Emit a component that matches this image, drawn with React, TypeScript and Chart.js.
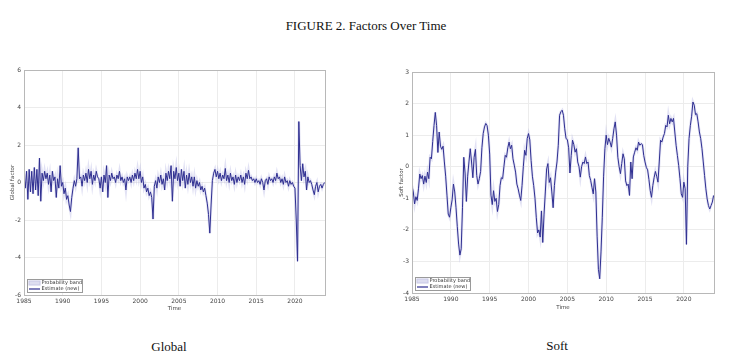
import React, { useEffect, useRef } from "react";
import { Chart, registerables } from "chart.js";

Chart.register(...registerables);

// ---------- data ----------
const START_YEAR = 1985;
const STEPS_PER_YEAR = 6; // bimonthly readings
const X_MIN = 1985;
const X_MAX = 2023.88;
const yearTicks = [1985, 1990, 1995, 2000, 2005, 2010, 2015, 2020];
const globalTicks = [-6, -4, -2, 0, 2, 4, 6];
const softTicks = [-4, -3, -2, -1, 0, 1, 2, 3];

// Global factor, 6 readings per year, 1985..2023
const globalValues = [
  0.3, -0.3, 0.6, -0.9, 0.7, -0.5,
  0.6, -0.6, 0.8, -0.4, 0.7, -0.7,
  1.3, -1.0, 0.5, 0.1, 0.6, 0.2,
  0.5, -0.1, 0.4, -0.5, 0.6, 0.1,
  0.3, -0.8, 0.2, -0.3, 0.9, -0.2,
  0.0, -0.6, -0.3, -0.9, -0.7, -1.2,
  -1.55, -0.8, -0.3, 0.1, -0.2, 0.2,
  1.85, 0.2, 0.3, -0.2, 0.4, 0.1,
  0.5, 0.0, 0.7, 0.2, 0.6, -0.1,
  0.4, 0.1, 0.6, 0.3, 0.2, -0.3,
  0.3, -0.5, 0.4, 0.0, 0.9, -0.8,
  0.4, 0.1, 0.5, 0.2, 0.3, 0.0,
  0.4, 0.2, 0.6, 0.1, 0.3, 0.0,
  0.2, -0.4, 0.3, 0.1, 0.3, 0.0,
  0.4, 0.1, 0.5, 0.2, 0.7, 0.2,
  0.6, 0.0, 0.3, -0.3, -0.1, -0.5,
  -0.3, -0.7, -0.5, -0.8, -1.95, -0.2,
  0.1, -0.3, 0.3, 0.0, 0.4, -0.1,
  0.2, -0.4, 0.5, 0.1, 0.6, 0.2,
  0.9, -1.0, 0.6, 0.2, 0.8, 0.1,
  0.5, -0.2, 0.7, 0.1, 0.6, -0.3,
  0.4, -0.1, 0.5, 0.0, 0.3, -0.2,
  0.3, -0.3, 0.1, -0.2, 0.0, -0.4,
  -0.2, -0.5, -0.3, -0.7, -1.1, -1.7,
  -2.7, -1.2, 0.1, 0.5, 0.7, 0.3,
  0.6, 0.2, 0.5, 0.1, 0.4, 0.2,
  0.75, 0.1, 0.4, 0.0, 0.5, 0.1,
  0.3, -0.1, 0.4, 0.0, 0.3, 0.1,
  0.4, 0.0, 0.3, -0.1, 0.5, 0.2,
  0.65, 0.2, 0.3, 0.1, 0.2, 0.0,
  0.2, 0.0, 0.1, -0.1, 0.2, 0.0,
  -0.4, 0.1, 0.2, -0.1, 0.3, 0.1,
  0.2, 0.0, 0.3, 0.1, 0.5, 0.2,
  0.3, 0.0, 0.2, -0.1, 0.3, 0.0,
  0.1, -0.2, 0.1, -0.1, 0.0, -0.2,
  -0.3, -2.0, -4.2, 3.25, 0.9, 0.1,
  1.0, 0.3, 0.6, -0.4, 0.3, 0.0,
  0.1, -0.1, -0.4, -0.65, -0.2, 0.0,
  -0.5, -0.2, -0.1, -0.3, -0.1, 0.0,
];

// Soft factor, 6 readings per year, 1985..2023
const softValues = [
  -0.6, -0.8, -1.18, -0.95, -1.07, -0.7,
  -0.23, -0.38, -0.28, -0.55, -0.3, -0.5,
  -0.17, -0.38, 0.3, 0.25, 0.8, 1.3,
  1.72, 1.3, 0.45, 1.1, 0.65, 0.55,
  0.65, 0.15, -0.3, -0.9, -1.5, -1.6,
  -1.3, -1.05, -0.55, -0.8, -1.3, -1.9,
  -2.45, -2.8, -2.6, -1.3, 0.3, -0.2,
  -1.1, -0.3, 0.15, 0.57, 0.15, -0.35,
  0.3, 0.55, -0.28, -0.55, -0.38, -0.15,
  0.6, 1.05, 1.26, 1.37, 1.3, 1.0,
  0.4, -0.9, -1.2, -0.76, -1.1, -1.0,
  -1.42, -1.2, -0.6, -0.35, -0.38, 0.0,
  0.36, 0.3, 0.6, 0.78, 0.57, 0.68,
  0.25, 0.05, -0.17, -0.55, -0.7, -0.9,
  -1.07, -0.6, 0.0, 0.52, 0.36, 0.89,
  1.05, 0.85, 0.2, -0.3, -0.6, -1.0,
  -1.6, -2.1, -2.0, -2.23, -1.4, -2.4,
  -1.5, -0.8, -0.07, 0.1, -0.5, -0.35,
  -0.8, -1.3, -0.6, -0.17, 0.15, 0.68,
  1.63, 1.74, 1.79, 1.63, 1.2, 0.89,
  0.86, 0.6, -0.2, 0.36, 0.84, 0.7,
  0.46, 0.57, 0.15, 0.0, -0.33, 0.0,
  0.15, 0.1, 0.31, 0.1, 0.15, -0.28,
  -0.43, -0.65, -0.86, -0.38, -0.8, -2.2,
  -3.25, -3.55, -2.7, -1.6, -0.3, 0.57,
  1.0, 0.7, 0.9, 0.78, 0.62, 0.89,
  1.2, 1.42, 1.0, 0.3, 0.0, -0.22,
  0.1, 0.41, 0.25, -0.45, -0.6, -0.55,
  -0.91, 0.15, -0.38, 0.31, 0.46, 0.6,
  0.52, 0.78, 0.68, 0.73, 0.7, 0.36,
  0.15, -0.02, -0.1, -0.4, -0.75, -0.97,
  -0.6, -0.35, -0.15, -0.3, -0.49, 0.15,
  0.84, 0.78, 0.94, 1.05, 1.31, 1.26,
  1.63, 1.36, 1.53, 1.42, 1.53, 1.1,
  0.68, 0.36, 0.04, -0.38, -0.86, -0.97,
  -0.49, -0.7, -2.46, 0.0, 0.89, 1.3,
  1.6, 2.05, 1.95, 1.65, 1.68, 1.42,
  1.1, 0.89, 0.57, 0.15, -0.28, -0.7,
  -1.02, -1.23, -1.34, -1.23, -1.12, -0.91,
];

// ---------- styles ----------
const LINE_COLOR = "rgb(46, 46, 144)";
const BAND_COLOR = "rgba(190, 190, 230, 0.45)";
const BAND_SWATCH = "rgb(222, 222, 240)";
const GRID_COLOR = "#ececec";
const BOX_COLOR = "#b8b8b8";
const TEXT_COLOR = "#444";
const SANS = "'DejaVu Sans', sans-serif";

const boxLegendPlugin = {
  id: "boxLegend",
  afterDatasetsDraw(chart: any) {
    const { ctx, chartArea: a } = chart;
    ctx.save();
    ctx.strokeStyle = BOX_COLOR;
    ctx.lineWidth = 1;
    const l = Math.round(a.left) + 0.5;
    const t = Math.round(a.top) + 0.5;
    ctx.strokeRect(l, t, Math.round(a.right - a.left), Math.round(a.bottom - a.top));
    // legend box
    const lx = Math.round(a.left + 3) + 0.5;
    const ly = Math.round(a.bottom - 16) + 0.5;
    const lw = 55;
    const lh = 13;
    ctx.fillStyle = "#fff";
    ctx.fillRect(lx, ly, lw, lh);
    ctx.strokeStyle = "#9a9a9a";
    ctx.strokeRect(lx, ly, lw, lh);
    ctx.fillStyle = BAND_SWATCH;
    ctx.fillRect(lx + 1.5, ly + 1.5, 11, 4);
    ctx.strokeStyle = "rgb(200,200,230)";
    ctx.strokeRect(lx + 1.5, ly + 1.5, 11, 4);
    ctx.strokeStyle = LINE_COLOR;
    ctx.lineWidth = 1.2;
    ctx.beginPath();
    ctx.moveTo(lx + 1.5, ly + 9.5);
    ctx.lineTo(lx + 12.5, ly + 9.5);
    ctx.stroke();
    ctx.fillStyle = "#333";
    ctx.font = `5px ${SANS}`;
    ctx.textBaseline = "middle";
    ctx.textAlign = "left";
    const labels = chart.data.datasets.map((d: any) => d.label);
    ctx.fillText(labels[0], lx + 14, ly + 3.7);
    ctx.fillText(labels[1], lx + 14, ly + 9.7);
    ctx.restore();
  },
};

type PanelProps = {
  left: number;
  top: number;
  width: number;
  height: number;
  values: number[];
  yTicks: number[];
  yTitle: string;
  axisW: number;
  axisH: number;
  padTop: number;
  padRight: number;
  yTitlePad: number;
  xTitlePad: number;
};

function FactorPanel(p: PanelProps) {
  const ref = useRef<HTMLCanvasElement>(null);
  useEffect(() => {
    if (!ref.current) return;
    const pts = p.values.map((v, i) => ({ x: START_YEAR + i / STEPS_PER_YEAR, y: v }));
    const tickFont = { family: SANS, size: 6 };
    const titleFont = { family: SANS, size: 5.5 };
    const chart = new Chart(ref.current, {
      type: "line",
      data: {
        datasets: [
          {
            label: "Probability band",
            data: pts,
            borderColor: BAND_COLOR,
            borderWidth: 2.6,
            pointRadius: 0,
            tension: 0,
            order: 2,
          },
          {
            label: "Estimate (new)",
            data: pts,
            borderColor: LINE_COLOR,
            borderWidth: 1,
            pointRadius: 0,
            tension: 0,
            order: 1,
          },
        ],
      },
      options: {
        responsive: false,
        animation: false,
        devicePixelRatio: 1,
        layout: { padding: { top: p.padTop, right: p.padRight, left: 0, bottom: 0 } },
        plugins: { legend: { display: false }, tooltip: { enabled: false } },
        scales: {
          x: {
            type: "linear",
            min: X_MIN,
            max: X_MAX,
            afterBuildTicks: (s: any) => {
              s.ticks = yearTicks.map((v) => ({ value: v }));
            },
            afterFit: (s: any) => {
              s.height = p.axisH;
            },
            grid: { color: GRID_COLOR, drawTicks: false },
            border: { display: false },
            ticks: {
              padding: 3,
              font: tickFont,
              color: TEXT_COLOR,
              autoSkip: false,
              maxRotation: 0,
              callback: (v: any) => String(v),
            },
            title: {
              display: true,
              text: "Time",
              font: titleFont,
              color: TEXT_COLOR,
              padding: { top: 0, bottom: p.xTitlePad },
            },
          },
          y: {
            type: "linear",
            min: p.yTicks[0],
            max: p.yTicks[p.yTicks.length - 1],
            afterBuildTicks: (s: any) => {
              s.ticks = p.yTicks.map((v) => ({ value: v }));
            },
            afterFit: (s: any) => {
              s.width = p.axisW;
            },
            grid: { color: GRID_COLOR, drawTicks: false },
            border: { display: false },
            ticks: {
              padding: 3,
              font: tickFont,
              color: TEXT_COLOR,
              callback: (v: any) => String(v),
            },
            title: {
              display: true,
              text: p.yTitle,
              font: titleFont,
              color: TEXT_COLOR,
              padding: { top: p.yTitlePad, bottom: 0 },
            },
          },
        },
      },
      plugins: [boxLegendPlugin],
    } as any);
    return () => chart.destroy();
  }, []);
  return (
    <canvas
      ref={ref}
      width={p.width}
      height={p.height}
      style={{ position: "absolute", left: p.left, top: p.top, width: p.width, height: p.height }}
    />
  );
}

export default function App() {
  const serif = "'Liberation Serif', 'Times New Roman', serif";
  return (
    <div
      style={{
        position: "absolute",
        left: 0,
        top: 0,
        width: 732,
        height: 355,
        background: "#fff",
        overflow: "hidden",
        fontFamily: serif,
        color: "#111",
      }}
    >
      <div style={{ position: "absolute", left: 0, width: 732, top: 18, textAlign: "center", fontSize: 13 }}>
        FIGURE 2. Factors Over Time
      </div>
      <FactorPanel
        left={0}
        top={55}
        width={340}
        height={270}
        values={globalValues}
        yTicks={globalTicks}
        yTitle="Global factor"
        axisW={24}
        axisH={30}
        padTop={15}
        padRight={15}
        yTitlePad={9}
        xTitlePad={13}
      />
      <FactorPanel
        left={388}
        top={55}
        width={340}
        height={270}
        values={softValues}
        yTicks={softTicks}
        yTitle="Soft factor"
        axisW={24}
        axisH={32}
        padTop={17}
        padRight={14}
        yTitlePad={10}
        xTitlePad={14.5}
      />
      <div style={{ position: "absolute", left: 119, width: 100, top: 339, textAlign: "center", fontSize: 13 }}>
        Global
      </div>
      <div style={{ position: "absolute", left: 507, width: 100, top: 337.5, textAlign: "center", fontSize: 13 }}>
        Soft
      </div>
    </div>
  );
}
